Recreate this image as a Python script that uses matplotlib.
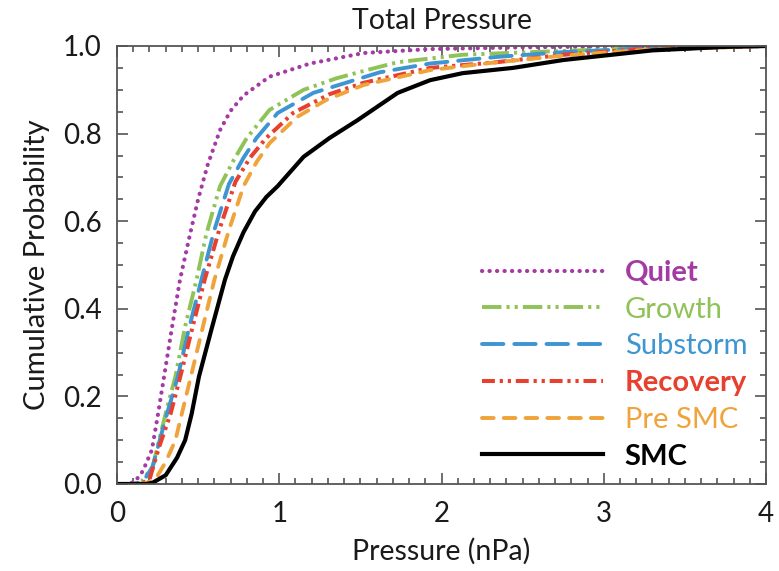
import matplotlib
matplotlib.use("Agg")
import matplotlib.pyplot as plt
from matplotlib.ticker import MultipleLocator, FormatStrFormatter

plt.rcParams["font.family"] = ["Lato", "DejaVu Sans"]

# cumulative distributions (pressure in nPa, probability)
quiet_x = [0, 0.08, 0.12, 0.16, 0.215, 0.25, 0.29, 0.34, 0.388, 0.45, 0.50, 0.56, 0.635,
           0.70, 0.78, 0.94, 1.19, 1.52, 1.93, 2.5, 3.0, 4.0]
quiet_y = [0, 0, 0.01, 0.03, 0.078, 0.153, 0.245, 0.36, 0.466, 0.57, 0.65, 0.73, 0.808,
           0.852, 0.887, 0.93, 0.96, 0.984, 0.993, 0.997, 0.999, 1.0]

growth_x = [0, 0.1, 0.15, 0.22, 0.31, 0.36, 0.42, 0.49, 0.55, 0.635, 0.72, 0.80, 0.94,
            1.15, 1.35, 1.54, 1.73, 2.13, 2.55, 2.85, 3.3, 4.0]
growth_y = [0, 0, 0.005, 0.04, 0.176, 0.245, 0.36, 0.466, 0.57, 0.68, 0.74, 0.79, 0.854,
            0.90, 0.926, 0.945, 0.963, 0.98, 0.986, 0.99, 0.996, 1.0]

substorm_x = [0, 0.1, 0.16, 0.22, 0.30, 0.375, 0.44, 0.52, 0.60, 0.69, 0.78, 0.86, 0.99,
              1.21, 1.62, 1.93, 2.34, 2.75, 3.2, 4.0]
substorm_y = [0, 0, 0.005, 0.04, 0.15, 0.245, 0.35, 0.466, 0.58, 0.685, 0.745, 0.79, 0.847,
              0.893, 0.94, 0.96, 0.975, 0.986, 0.994, 1.0]

recovery_x = [0, 0.1, 0.16, 0.20, 0.26, 0.33, 0.39, 0.46, 0.54, 0.63, 0.73, 0.82, 0.92,
              1.085, 1.31, 1.52, 1.93, 2.34, 2.75, 3.2, 4.0]
recovery_y = [0, 0, 0.003, 0.01, 0.085, 0.16, 0.245, 0.35, 0.466, 0.58, 0.69, 0.745, 0.79,
              0.847, 0.89, 0.916, 0.95, 0.963, 0.98, 0.992, 1.0]

presmc_x = [0, 0.15, 0.20, 0.245, 0.30, 0.36, 0.455, 0.53, 0.60, 0.69, 0.78, 0.86, 0.94,
            1.11, 1.29, 1.52, 1.93, 2.34, 2.75, 3.2, 4.0]
presmc_y = [0, 0, 0.005, 0.016, 0.05, 0.10, 0.245, 0.36, 0.466, 0.58, 0.68, 0.735, 0.778,
            0.838, 0.877, 0.911, 0.945, 0.963, 0.978, 0.99, 1.0]

smc_x = [0, 0.18, 0.22, 0.30, 0.37, 0.42, 0.46, 0.505, 0.58, 0.665, 0.715, 0.78, 0.85,
         0.92, 0.99, 1.15, 1.31, 1.48, 1.73, 1.93, 2.13, 2.44, 2.75, 3.0, 3.3, 3.75, 4.0]
smc_y = [0, 0, 0.003, 0.02, 0.06, 0.10, 0.16, 0.245, 0.35, 0.466, 0.52, 0.575, 0.622,
         0.655, 0.68, 0.747, 0.79, 0.83, 0.893, 0.922, 0.938, 0.95, 0.968, 0.978, 0.99, 0.998, 1.0]

labels = ["Quiet", "Growth", "Substorm", "Recovery", "Pre SMC", "SMC"]

series = [
    (quiet_x, quiet_y, "#a43ba5", dict(linestyle=(0, (0.05, 1.75)), lw=3.0, dash_capstyle="round")),
    (growth_x, growth_y, "#8fc257", dict(linestyle=(0, (5, 1.3, 0.8, 1.3, 0.8, 1.3)), lw=2.8)),
    (substorm_x, substorm_y, "#3d95d2", dict(linestyle=(0, (5.5, 2.8)), lw=2.8, dash_capstyle="round")),
    (recovery_x, recovery_y, "#e8402e", dict(linestyle=(0, (3.2, 1.2, 0.8, 1.2, 0.8, 1.2)), lw=2.9)),
    (presmc_x, presmc_y, "#f0a33a", dict(linestyle=(0, (3.0, 2.6)), lw=2.8, dash_capstyle="round")),
    (smc_x, smc_y, "black", dict(linestyle="-", lw=3.0)),
]

fig = plt.figure(figsize=(7.79, 5.71), dpi=100)
ax = fig.add_axes([117 / 779, 1 - 484 / 571, 649 / 779, 438 / 571])

for (x, y, c, kw), lab in zip(series, labels):
    ax.plot(x, y, color=c, label=lab, **kw)

ax.set_xlim(0, 4)
ax.set_ylim(0, 1.0)
ax.xaxis.set_major_locator(MultipleLocator(1))
ax.xaxis.set_minor_locator(MultipleLocator(0.1))
ax.yaxis.set_major_locator(MultipleLocator(0.2))
ax.yaxis.set_minor_locator(MultipleLocator(0.05))
ax.yaxis.set_major_formatter(FormatStrFormatter("%.1f"))

ax.tick_params(which="both", direction="in", top=True, right=True, color="#555555",
               width=1.2, labelsize=20, labelcolor="#1a1a1a")
ax.tick_params(axis="y", which="both", pad=11)
ax.tick_params(axis="x", which="both", pad=12)
ax.tick_params(which="major", length=8)
ax.tick_params(which="minor", length=4.5)
for s in ax.spines.values():
    s.set_color("#555555")
    s.set_linewidth(1.3)

ax.set_title("Total Pressure", fontsize=20.5, color="#1a1a1a", pad=12)
ax.set_xlabel("Pressure (nPa)", fontsize=20.5, color="#1a1a1a", labelpad=8)
ax.set_ylabel("Cumulative Probability", fontsize=21, color="#1a1a1a", labelpad=9)

leg = ax.legend(loc="upper left", bbox_to_anchor=(0.562, 0.512), frameon=False,
                fontsize=21, handlelength=4.15, handletextpad=0.75, labelspacing=0.37,
                borderpad=0, borderaxespad=0, labelcolor="linecolor")
for t, lab in zip(leg.get_texts(), labels):
    if lab in ("Quiet", "Recovery", "SMC"):
        t.set_fontweight("bold")

fig.savefig("out.png", dpi=100)
